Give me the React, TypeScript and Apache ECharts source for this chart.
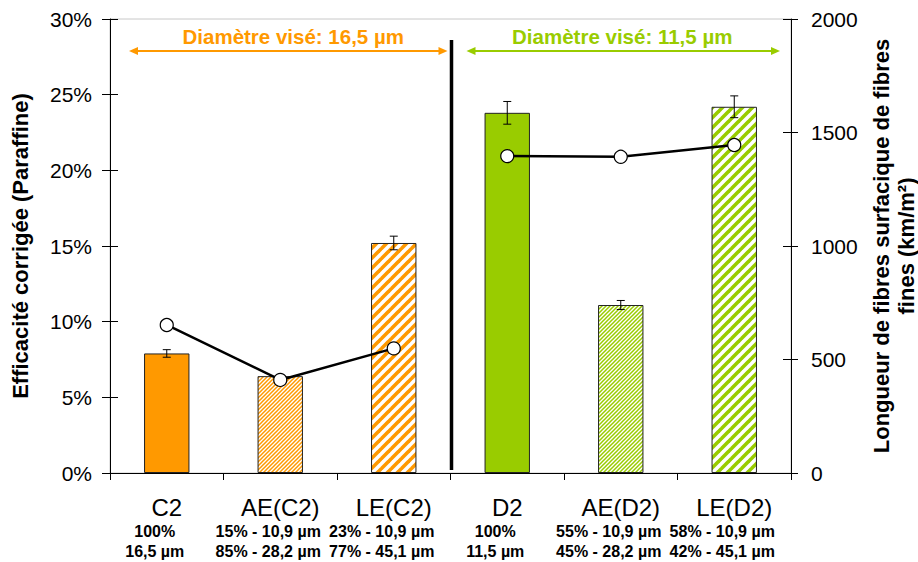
import React, { useEffect, useRef } from "react";
import * as echarts from "echarts";

const categories = ["C2", "AE(C2)", "LE(C2)", "D2", "AE(D2)", "LE(D2)"];
const subLine1 = ["100%", "15% - 10,9 µm", "23% - 10,9 µm", "100%", "55% - 10,9 µm", "58% - 10,9 µm"];
const subLine2 = ["16,5 µm", "85% - 28,2 µm", "77% - 45,1 µm", "11,5 µm", "45% - 28,2 µm", "42% - 45,1 µm"];
const efficiency = [7.9, 6.4, 15.2, 23.8, 11.1, 24.2];
const efficiencyError = [0.25, 0.1, 0.45, 0.75, 0.3, 0.72];
const fibreLength = [652, 410, 549, 1396, 1393, 1445];
const lineGroups = [0, 0, 0, 1, 1, 1];
const groupTitles = ["Diamètre visé: 16,5 µm", "Diamètre visé: 11,5 µm"];
const leftAxisTitle = "Efficacité corrigée (Paraffine)";
const rightAxisTitle = "Longueur de fibres surfacique de fibres\nfines (km/m²)";

const ORANGE = "#FF9900";
const GREEN = "#99CC00";
const FONT = '"Liberation Sans", Arial, sans-serif';

// style per bar: fill kind
const barKinds = ["solid", "fine", "wide", "solid", "fine", "wide"];
const barColors = [ORANGE, ORANGE, ORANGE, GREEN, GREEN, GREEN];
const groupColors = [ORANGE, GREEN];
const groupTitleShift = [5, -1];

const W = 918;
const H = 562;
const GRID_LEFT = 110;
const GRID_RIGHT = 127;
const GRID_TOP = 19;
const GRID_BOTTOM = 89;

function stripes(color: string, period: number, width: number) {
  const c = document.createElement("canvas");
  c.width = period;
  c.height = period;
  const ctx = c.getContext("2d")!;
  ctx.fillStyle = "#fff";
  ctx.fillRect(0, 0, period, period);
  ctx.strokeStyle = color;
  ctx.lineWidth = width;
  for (let k = -1; k <= 1; k++) {
    ctx.beginPath();
    ctx.moveTo(k * period - 1, period + 1);
    ctx.lineTo(k * period + period + 1, -1);
    ctx.stroke();
  }
  return { image: c, repeat: "repeat", imageWidth: period, imageHeight: period } as any;
}

function fillFor(i: number) {
  const kind = barKinds[i];
  const col = barColors[i];
  if (kind === "solid") return col;
  if (kind === "fine") return stripes(col, 4, 1.5);
  return stripes(col, 10, 3.6);
}

export default function App() {
  const ref = useRef<HTMLDivElement>(null);

  useEffect(() => {
    if (!ref.current) return;
    const chart = echarts.init(ref.current, undefined, { renderer: "svg" });

    const plotW = W - GRID_LEFT - GRID_RIGHT;
    const catW = plotW / categories.length;
    const sepX = GRID_LEFT + 3 * catW;
    const arrowY = 51;
    const arrows = [
      { x1: GRID_LEFT + 19, x2: sepX - 3 },
      { x1: sepX + 16, x2: W - GRID_RIGHT - 11 },
    ];

    const graphic: any[] = [
      {
        type: "line",
        shape: { x1: sepX + 1, y1: 40, x2: sepX + 1, y2: 470 },
        style: { stroke: "#000", lineWidth: 3.5 },
        z: 20,
      },
    ];
    arrows.forEach((a, g) => {
      const col = groupColors[g];
      graphic.push({
        type: "line",
        shape: { x1: a.x1 + 4, y1: arrowY, x2: a.x2 - 4, y2: arrowY },
        style: { stroke: col, lineWidth: 2 },
        z: 20,
      });
      graphic.push({
        type: "polygon",
        shape: { points: [[a.x1, arrowY], [a.x1 + 9, arrowY - 4], [a.x1 + 9, arrowY + 4]] },
        style: { fill: col },
        z: 20,
      });
      graphic.push({
        type: "polygon",
        shape: { points: [[a.x2, arrowY], [a.x2 - 9, arrowY - 4], [a.x2 - 9, arrowY + 4]] },
        style: { fill: col },
        z: 20,
      });
      graphic.push({
        type: "text",
        style: {
          text: groupTitles[g],
          x: (a.x1 + a.x2) / 2 + groupTitleShift[g],
          y: 36,
          align: "center",
          verticalAlign: "middle",
          fill: col,
          font: `bold 20.5px ${FONT}`,
        },
        z: 20,
      });
    });

    const lineSeries = [0, 1].map((g) => ({
      type: "line",
      yAxisIndex: 1,
      data: fibreLength.map((v, i) => (lineGroups[i] === g ? v : "-")),
      symbol: "circle",
      symbolSize: 13,
      lineStyle: { color: "#000", width: 2.5 },
      itemStyle: { color: "#fff", borderColor: "#000", borderWidth: 1.2 },
      z: 10,
    }));

    const option: any = {
      animation: false,
      textStyle: { fontFamily: FONT, color: "#000" },
      grid: {
        left: GRID_LEFT,
        right: GRID_RIGHT,
        top: GRID_TOP,
        bottom: GRID_BOTTOM,
        containLabel: false,
        outerBoundsMode: "none",
        show: true,
        borderColor: "#c8c8c8",
        borderWidth: 1,
        backgroundColor: "transparent",
      },
      xAxis: {
        type: "category",
        data: categories,
        axisLine: { lineStyle: { color: "#000", width: 1 } },
        axisTick: { show: true, length: 7, lineStyle: { color: "#000" } },
        axisLabel: {
          interval: 0,
          margin: 20,
          color: "#000",
          formatter: (v: string, i: number) => `{n|${v}}\n{b|${subLine1[i]}}\n{b|${subLine2[i]}}`,
          rich: {
            n: { fontSize: 24, lineHeight: 28, fontFamily: FONT, color: "#000" },
            b: {
              fontSize: 16,
              fontWeight: "bold",
              lineHeight: 20,
              fontFamily: FONT,
              color: "#000",
              padding: [0, 24, 0, 0],
            },
          },
        },
        splitLine: { show: false },
      },
      yAxis: [
        {
          type: "value",
          position: "left",
          min: 0,
          max: 30,
          interval: 5,
          name: leftAxisTitle,
          nameLocation: "middle",
          nameGap: 79,
          nameTextStyle: { fontSize: 22, fontWeight: "bold", color: "#000", fontFamily: FONT },
          axisLine: { show: true, lineStyle: { color: "#000", width: 1 } },
          axisTick: { show: true, length: 8, lineStyle: { color: "#000" } },
          axisLabel: { formatter: "{value}%", fontSize: 21, color: "#000", margin: 18 },
          splitLine: { show: false },
        },
        {
          type: "value",
          position: "right",
          min: 0,
          max: 2000,
          interval: 500,
          name: rightAxisTitle,
          nameLocation: "middle",
          nameGap: 71,
          nameTextStyle: { fontSize: 22, fontWeight: "bold", color: "#000", lineHeight: 25, fontFamily: FONT },
          axisLine: { show: true, lineStyle: { color: "#000", width: 1 } },
          axisTick: { show: true, length: 7, lineStyle: { color: "#000" } },
          axisLabel: { fontSize: 21, color: "#000", margin: 20, formatter: (v: number) => String(v) },
          splitLine: { show: false },
        },
        {
          type: "value",
          position: "left",
          min: 0,
          max: 30,
          interval: 5,
          axisLine: { show: false },
          axisTick: { show: true, inside: true, length: 8, lineStyle: { color: "#000" } },
          axisLabel: { show: false },
          splitLine: { show: false },
        },
        {
          type: "value",
          position: "right",
          min: 0,
          max: 2000,
          interval: 500,
          axisLine: { show: false },
          axisTick: { show: true, inside: true, length: 8, lineStyle: { color: "#000" } },
          axisLabel: { show: false },
          splitLine: { show: false },
        },
      ],
      series: [
        {
          type: "bar",
          yAxisIndex: 0,
          barWidth: "40%",
          data: efficiency.map((v, i) => ({
            value: v,
            itemStyle: { color: fillFor(i), borderColor: "#222", borderWidth: 1 },
          })),
          z: 2,
        },
        {
          type: "custom",
          yAxisIndex: 0,
          data: efficiency.map((v, i) => [i, v - efficiencyError[i], v + efficiencyError[i]]),
          encode: { x: 0, y: [1, 2] },
          renderItem: (params: any, api: any) => {
            const x = api.value(0);
            const lo = api.coord([x, api.value(1)]);
            const hi = api.coord([x, api.value(2)]);
            const hw = 4;
            const st = { stroke: "#000", lineWidth: 1 };
            return {
              type: "group",
              children: [
                { type: "line", shape: { x1: lo[0], y1: lo[1], x2: hi[0], y2: hi[1] }, style: st },
                { type: "line", shape: { x1: lo[0] - hw, y1: lo[1], x2: lo[0] + hw, y2: lo[1] }, style: st },
                { type: "line", shape: { x1: hi[0] - hw, y1: hi[1], x2: hi[0] + hw, y2: hi[1] }, style: st },
              ],
            };
          },
          z: 5,
        },
        ...lineSeries,
      ],
      graphic,
    };

    chart.setOption(option);
    return () => chart.dispose();
  }, []);

  return (
    <div
      ref={ref}
      style={{ position: "absolute", left: 0, top: 0, width: W, height: H, background: "#fff" }}
    />
  );
}
